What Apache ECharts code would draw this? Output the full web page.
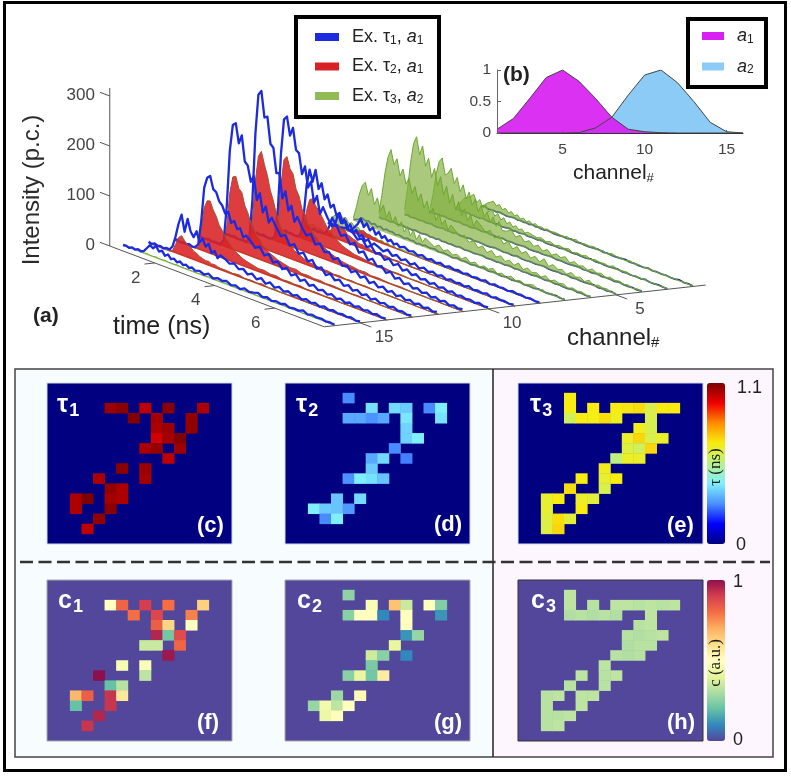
<!DOCTYPE html>
<html><head><meta charset="utf-8"><style>html,body{margin:0;padding:0;background:#fff}#c{width:791px;height:777px;filter:blur(0.55px)}</style>
<script src="https://cdn.jsdelivr.net/npm/echarts@6/dist/echarts.min.js"></script></head>
<body><div id="c"></div><script>
// ---- panel (a): decay traces, photon counts vs time per channel row
const timeNs=[0.6,0.7,0.8,0.9,1.0,1.1,1.2,1.3,1.4,1.5,1.6,1.7,1.8,1.9,2.0,2.1,2.2,2.3,2.4,2.5,2.6,2.7,2.8,2.9,3.0,3.2,3.4,3.6,3.8,4.0,4.2,4.4,4.6,4.8,5.0,5.3,5.6,5.9,6.2,6.5,6.8,7.1,7.4,7.7];
const timeFine=[0.6,0.7,0.8,0.9,1.0,1.1,1.2,1.3,1.4,1.5,1.6,1.7,1.8,1.9,2.0,2.1,2.2,2.3,2.4,2.5,2.6,2.7,2.8,2.9,3.0,3.15,3.3,3.45,3.6,3.75,3.9,4.05,4.2,4.35,4.5,4.65,4.8,4.95,5.1,5.25,5.4,5.55,5.7,5.85,6.0,6.15,6.3,6.45,6.6,6.75,6.9,7.05,7.2,7.35,7.5,7.65];
const blue0=[2,3,1,4,2,5,3,6,14,22,18,25,16,20,12,17,10,13,8,12,7,10,6,9,5,8,4,9,3,7,5,8,3,6,2,7,3,5,8,3,6,2,5,3,6,2,4,3,7,2,5,3,4,2,3,2];
const blue1=[3,1,4,2,3,1,4,3,12,34,62,82,50,78,55,46,60,40,50,36,44,28,34,22,30,26,20,24,16,20,12,17,9,15,7,13,6,11,5,9,4,8,3,7,3,6,2,6,2,5,2,4,2,4,1,3];
const blue2=[2,4,1,3,2,4,1,3,10,58,128,150,156,132,128,112,106,92,98,78,84,70,74,58,64,56,46,52,38,44,30,36,24,30,18,24,14,20,11,16,9,13,7,11,5,9,4,8,3,7,3,6,2,5,2,3];
const blue3=[3,1,2,4,1,3,2,4,14,84,196,250,256,218,236,186,180,150,164,118,134,98,112,82,94,78,64,70,52,58,42,48,34,40,26,32,20,26,16,21,12,17,9,14,7,12,5,10,5,8,4,7,3,5,2,4];
const blue4=[1,3,2,4,1,2,3,1,12,90,225,305,315,264,268,216,210,162,164,116,132,96,108,78,90,72,60,66,48,54,40,44,32,38,26,30,20,26,16,22,12,18,10,15,8,13,6,11,5,9,4,8,3,7,3,5];
const blue5=[2,1,3,1,4,2,1,3,10,70,180,250,258,222,240,198,194,154,172,132,146,106,122,88,104,86,72,78,60,66,50,56,40,46,32,38,26,30,20,26,15,20,11,16,9,13,7,11,5,9,4,8,3,6,3,5];
const blue6=[3,2,1,4,2,3,1,2,8,46,110,144,122,148,112,126,96,108,84,92,72,80,62,68,54,50,40,46,32,38,26,30,20,26,16,22,12,18,10,15,8,12,6,11,5,9,4,8,3,6,3,5,2,5,2,3];
const blue7=[2,3,1,2,4,1,3,2,6,20,40,30,52,36,46,30,40,26,34,22,28,18,24,14,20,16,11,18,9,14,7,12,5,11,4,9,4,8,3,7,2,6,3,5,2,6,2,4,2,5,1,4,2,3,1,3];
const blue8=[1,3,2,4,2,3,5,3,6,14,22,35,20,30,18,26,14,22,12,18,10,15,8,12,7,11,6,9,4,8,3,7,3,6,2,6,3,5,2,5,2,4,2,5,1,4,2,3,1,4,2,3,1,3,1,2];
const blue9=[3,5,8,12,9,11,7,10,6,9,5,8,6,7,4,6,5,3,6,4,5,2,4,3,5,3,5,2,4,3,1,4,2,3,1,3,2,4,1,3,2,1,3,1,2,3,1,2,1,3,2,1,2,3,1,2];
const blue10=[2,1,3,2,1,3,1,2,3,1,2,1,3,2,1,2,3,1,2,1,3,1,2,1,2,1,3,1,2,1,2,3,1,2,1,2,1,3,1,2,1,2,1,3,2,1,3,1,2,1,1,3,1,2,1,2];
const blue11=[1,3,1,2,2,1,3,1,2,3,1,1,2,3,1,2,1,3,2,1,1,2,3,1,2,2,1,1,3,2,1,2,1,3,1,1,2,1,2,3,1,1,2,1,3,1,2,1,1,2,3,1,2,1,3,1];
const blue12=[3,1,2,1,2,3,1,2,1,2,3,1,2,1,1,3,2,1,2,3,1,2,1,1,3,1,2,1,2,3,1,1,2,1,2,3,1,2,1,1,2,3,1,2,1,3,1,2,2,1,3,1,1,2,1,2];
const blue13=[1,2,2,1,3,1,2,1,1,3,2,1,2,1,3,1,1,2,3,1,2,1,2,3,1,2,1,3,1,1,2,1,3,2,1,2,1,1,3,1,2,1,1,2,3,1,2,1,2,1,3,1,1,2,1,1];
const blue14=[2,3,1,1,2,1,3,2,1,1,2,3,1,2,1,2,1,3,1,2,1,1,3,2,1,1,2,1,3,1,2,1,1,2,3,1,2,1,1,2,3,1,2,1,1,3,1,2,1,2,1,1,3,1,2,1];
const red1=[0,0,0,0,0,0,0,0,4,18,34,40,32,26,24,18,16,12,10,8,9,6,7,5,4,4,3,5,2,3,2,4,1,2,1,2,3,1,2,1,2,1,2,1];
const red2=[0,0,0,0,0,0,0,0,6,40,88,104,106,90,80,64,56,46,38,32,26,22,18,15,13,10,7,8,5,6,3,4,3,4,2,3,2,3,1,2,2,1,2,1];
const red3=[0,0,0,0,0,0,0,0,8,44,112,146,150,128,122,98,86,68,60,46,42,32,28,22,20,14,11,8,9,5,6,4,5,3,4,3,2,3,1,2,1,2,1,1];
const red4=[0,0,0,0,0,0,0,0,8,50,130,182,194,170,150,122,104,80,66,52,44,32,28,20,18,12,8,7,4,5,3,4,2,3,2,3,1,2,2,1,2,1,1,2];
const red5=[0,0,0,0,0,0,0,0,6,42,118,170,178,156,148,120,108,84,76,58,54,42,38,28,26,18,14,10,8,7,5,6,3,4,3,2,3,1,2,1,2,1,1,1];
const red6=[0,0,0,0,0,0,0,0,4,22,60,84,88,76,70,60,50,40,36,28,24,20,16,14,12,8,7,5,4,3,4,2,3,2,1,2,1,2,1,1,2,1,1,1];
const red7=[0,0,0,0,0,0,0,0,2,8,20,28,30,24,26,18,16,13,12,8,9,6,7,4,5,3,4,2,3,1,2,2,1,1,1,1,1,1,1,1,1,1,1,1];
const red8=[0,0,0,0,0,0,0,0,1,4,8,11,12,9,8,7,6,4,5,3,4,2,3,2,2,1,2,1,1,1,1,1,1,1,1,1,1,1,1,1,1,1,1,1];
const greenLow=[1,2,2,3,2,3,2,2,3,2,2,3,2,2,3,2,2,2,3,2,2,2,2,2,2,2,2,3,2,2,2,3,2,2,2,2,3,2,2,2,2,2,1,2,2,1,2,2,1,2,1,1,2,1,1,1];
const green7=[1,4,8,10,12,8,10,6,8,5,6,4,5,3,4,2,3,2,3,1,2,2,2,1,2,2,1,2,1,2,1,2,1,1,2,1,1,2,1,1,1,2,1,1,1,1,2,1,1,1,1,1,1,1,1,1];
const green8=[2,10,20,26,30,22,26,16,20,12,16,10,13,8,10,6,8,5,7,4,6,3,5,2,4,4,2,4,2,3,1,4,2,3,1,3,2,2,1,3,1,2,2,1,2,1,2,1,1,2,1,1,1,2,1,1];
const green9=[6,30,58,78,86,62,78,48,64,40,54,32,46,26,40,22,34,16,30,13,26,10,22,9,20,14,9,16,8,13,6,11,5,12,4,9,3,8,5,10,3,7,2,8,3,6,2,5,7,2,5,1,4,2,3,1];
const green10=[10,50,95,128,146,118,132,100,116,88,102,74,90,64,80,54,70,46,60,38,54,34,46,28,40,32,24,30,19,26,15,22,12,20,10,16,8,14,7,15,5,12,6,9,4,10,3,8,5,7,2,6,3,5,2,3];
const green11=[12,56,110,150,166,132,152,114,132,96,116,84,104,70,90,58,78,50,68,42,58,36,50,30,44,36,27,34,22,30,17,26,14,22,12,19,9,16,8,18,6,13,7,10,4,11,5,8,3,9,2,6,4,5,2,3];
const green12=[8,40,82,108,118,86,92,104,76,90,64,80,54,70,46,60,38,52,32,44,26,38,22,34,18,20,26,15,22,12,18,10,16,7,14,6,12,8,13,4,10,5,8,3,9,4,7,2,6,3,5,2,4,1,3,1];
const green13=[3,12,22,30,34,38,44,30,38,24,32,20,28,16,24,13,20,10,16,8,13,7,11,5,9,7,5,8,4,7,3,6,4,7,2,5,3,6,2,5,3,4,2,6,2,3,4,1,3,2,3,1,2,1,2,1];
const green14=[2,6,12,16,20,13,18,10,15,8,13,7,11,5,9,4,8,3,7,3,5,3,5,2,4,4,2,5,2,6,1,4,3,5,2,4,1,5,2,3,1,4,2,3,1,3,2,2,1,3,1,2,1,2,1,1];
const blueRows=[blue0,blue1,blue2,blue3,blue4,blue5,blue6,blue7,blue8,blue9,blue10,blue11,blue12,blue13,blue14];
const redRows=[null,red1,red2,red3,red4,red5,red6,red7,red8];
const greenRows=[greenLow,greenLow,greenLow,greenLow,greenLow,greenLow,greenLow,green7,green8,green9,green10,green11,green12,green13,green14];
const intensityTicks=[0,100,200,300], timeTicks=[2,4,6], channelTicks=[5,10,15];
// ---- panel (b): emission spectra
const channels=[1,2,3,4,5,6,7,8,9,10,11,12,13,14,15,16];
const spectrumA1=[0.06,0.23,0.55,0.88,1,0.82,0.55,0.25,0.06,0.02,0.005,0,0,0,0,0];
const spectrumA2=[0,0,0,0,0,0.005,0.08,0.25,0.6,0.92,1,0.8,0.5,0.17,0.02,0];
// ---- panels (c)-(h): [column,row,value]
const gridIndex=['0','1','2','3','4','5','6','7','8','9','10','11','12','13','14','15'];
const tau1=[[5,2,1.06],[6,2,1.08],[8,2,1.02],[10,2,1.08],[13,2,1.04],[7,3,1.09],[9,3,1.05],[12,3,1.07],[9,4,1.04],[10,4,1.06],[12,4,1.07],[9,5,1.0],[10,5,1.05],[11,5,1.09],[8,6,1.04],[9,6,1.07],[11,6,1.06],[10,7,1.02],[6,8,1.08],[8,8,1.06],[4,9,1.04],[8,9,1.05],[5,10,1.07],[6,10,1.04],[2,11,1.04],[3,11,1.09],[5,11,1.05],[6,11,1.04],[2,12,1.04],[5,12,1.08],[4,13,1.07],[3,14,1.02]];
const tau2=[[5,1,0.27],[7,2,0.39],[9,2,0.38],[10,2,0.36],[12,2,0.27],[13,2,0.41],[5,3,0.31],[6,3,0.31],[7,3,0.28],[8,3,0.31],[10,3,0.4],[13,3,0.39],[10,4,0.37],[10,5,0.37],[11,5,0.41],[9,6,0.27],[7,7,0.31],[8,7,0.38],[10,7,0.26],[7,8,0.36],[5,9,0.28],[6,9,0.41],[7,9,0.39],[8,9,0.35],[4,11,0.35],[6,11,0.38],[2,12,0.41],[3,12,0.36],[4,12,0.35],[5,12,0.29],[3,13,0.27],[4,13,0.41]];
const tau3=[[4,1,0.69],[4,2,0.69],[6,2,0.69],[8,2,0.69],[9,2,0.7],[10,2,0.71],[11,2,0.62],[12,2,0.69],[13,2,0.69],[4,3,0.6],[5,3,0.69],[6,3,0.68],[7,3,0.71],[8,3,0.67],[11,3,0.62],[10,4,0.67],[11,4,0.62],[9,5,0.66],[10,5,0.72],[11,5,0.62],[12,5,0.66],[9,6,0.63],[10,6,0.6],[11,6,0.72],[8,7,0.56],[9,7,0.66],[10,7,0.66],[7,8,0.67],[5,9,0.69],[7,9,0.65],[8,9,0.69],[4,10,0.71],[7,10,0.62],[2,11,0.65],[3,11,0.69],[5,11,0.66],[6,11,0.64],[2,12,0.65],[5,12,0.69],[2,13,0.63],[3,13,0.71],[4,13,0.64],[2,14,0.63],[3,14,0.72]];
const conc1=[[5,2,0.5],[6,2,0.82],[8,2,0.9],[10,2,0.8],[13,2,0.63],[7,3,0.8],[9,3,0.88],[12,3,0.77],[9,4,0.83],[10,4,0.62],[12,4,0.5],[9,5,0.95],[10,5,0.22],[11,5,0.87],[8,6,0.35],[9,6,0.35],[11,6,0.82],[10,7,0.98],[6,8,0.47],[8,8,0.48],[4,9,1.0],[8,9,0.33],[5,10,0.2],[6,10,0.32],[2,11,0.68],[3,11,0.83],[5,11,0.92],[6,11,0.57],[2,12,0.2],[5,12,0.92],[4,13,0.95],[3,14,0.92]];
const conc2=[[5,1,0.26],[7,2,0.48],[9,2,0.66],[10,2,0.35],[12,2,0.5],[13,2,0.24],[5,3,0.25],[6,3,0.5],[7,3,0.5],[8,3,0.1],[10,3,0.5],[13,3,0.12],[10,4,0.5],[10,5,0.12],[11,5,0.27],[9,6,0.41],[7,7,0.36],[8,7,0.25],[10,7,0.1],[7,8,0.23],[5,9,0.25],[6,9,0.42],[7,9,0.22],[8,9,0.56],[4,11,0.28],[6,11,0.52],[2,12,0.27],[3,12,0.45],[4,12,0.33],[5,12,0.5],[3,13,0.43],[4,13,0.49]];
const conc3=[[4,1,0.33],[4,2,0.33],[6,2,0.32],[8,2,0.33],[9,2,0.33],[10,2,0.32],[11,2,0.33],[12,2,0.32],[13,2,0.33],[4,3,0.31],[5,3,0.32],[6,3,0.31],[7,3,0.32],[8,3,0.31],[11,3,0.33],[10,4,0.32],[11,4,0.33],[9,5,0.32],[10,5,0.31],[11,5,0.32],[12,5,0.33],[9,6,0.31],[10,6,0.32],[11,6,0.32],[8,7,0.32],[9,7,0.31],[10,7,0.32],[7,8,0.33],[5,9,0.33],[7,9,0.32],[8,9,0.33],[4,10,0.32],[7,10,0.32],[2,11,0.32],[3,11,0.33],[5,11,0.33],[6,11,0.33],[2,12,0.32],[5,12,0.33],[2,13,0.32],[3,13,0.32],[4,13,0.33],[2,14,0.32],[3,14,0.33]];

const tauColors=['#000080','#0000ff','#4a90ff','#80f0ff','#b8f088','#f8ee10','#ff8c00','#f00000','#7a0000'];
const concColors=['#52479a','#3288bd','#66c2a5','#abdda4','#e6f598','#ffffbf','#fee08b','#fdae61','#f46d43','#d53e4f','#8e0f4e'];
const BLUE='#1c2be0',RED='#d92226',GREEN='#93bb55';
const L1='Ex. τ1, a1',L2='Ex. τ2, a1',L3='Ex. τ3, a2';

// oblique projection of (time, channel row, intensity) into the hidden drawing scale
function proj(t,k,I){return [123+30*(t-0.6)+25.6*k, 246+11.3*(t-0.6)-2.8*k-0.5*I];}
function traceSeries(name,k,vals,kind){
  const times=kind==='red'?timeNs:timeFine;
  return {type:'custom',name,coordinateSystem:'cartesian2d',xAxisIndex:0,yAxisIndex:0,silent:true,clip:false,
    itemStyle:{color:kind==='blue'?BLUE:kind==='red'?RED:GREEN},
    data:vals.map((v,i)=>[times[i],v]),
    renderItem(p,api){
      if(p.dataIndex!==0)return null;
      const pts=vals.map((v,i)=>api.coord(proj(times[i],k,v)));
      if(kind==='blue')return {type:'polyline',shape:{points:pts},style:{stroke:k>=9?'#1a2c9e':BLUE,fill:null,lineWidth:k>=9?1.7:2.3,lineJoin:'round'}};
      const poly=pts.concat([api.coord(proj(times[times.length-1],k,0)),api.coord(proj(times[0],k,0))]);
      return {type:'group',children:[
        {type:'polygon',shape:{points:poly},style:{fill:kind==='red'?'rgba(217,34,38,0.88)':'rgba(130,175,62,0.68)',stroke:null}},
        {type:'polyline',shape:{points:pts},style:{stroke:kind==='red'?'#a5502e':'#6fa732',fill:null,lineWidth:1}}]};
    }};
}
const series=[];
for(let k=14;k>=0;k--){
  if(k>=9){series.push(traceSeries(L1,k,blueRows[k],'blue'));series.push(traceSeries(L3,k,greenRows[k],'green'));}
  else{series.push(traceSeries(L3,k,greenRows[k],'green'));if(redRows[k])series.push(traceSeries(L2,k,redRows[k],'red'));series.push(traceSeries(L1,k,blueRows[k],'blue'));}
}
// 3-D box axes
series.push({type:'custom',name:'axes',coordinateSystem:'cartesian2d',xAxisIndex:0,yAxisIndex:0,silent:true,clip:false,data:[0],z:5,
  renderItem(p,api){
    const c=[],GR='#555',TX='#444',TF='17px "Liberation Sans",Arial,sans-serif';
    const line=(a,b,col,w)=>c.push({type:'line',shape:{x1:a[0],y1:a[1],x2:b[0],y2:b[1]},style:{stroke:col||GR,lineWidth:w||1}});
    const txt=(a,s,al)=>c.push({type:'text',x:a[0],y:a[1],style:{text:s,fill:TX,font:TF,align:al||'center',verticalAlign:'middle'}});
    const P=(t,k,I)=>api.coord(proj(t,k,I));
    line(P(0.5,-0.4,0),P(7.65,-0.4,0));
    line(P(7.65,-0.4,0),P(7.65,14.5,0));
    line(P(0.5,-0.4,0),P(0.5,-0.4,316));
    intensityTicks.forEach(v=>{const a=P(0.5,-0.4,v),b=P(0.17,-0.4,v);line(a,b);txt([b[0]-5,b[1]+3],String(v),'right');});
    timeTicks.forEach(v=>{const a=P(v,-0.4,0),b=P(v,-0.8,0);line(a,b);const l=P(v,-1.1,0);txt([l[0]-1,l[1]+13],String(v));});
    channelTicks.forEach(v=>{const k=16-v,a=P(7.65,k,0),b=P(8.02,k,0);line(a,b);const l=P(8.45,k,0);txt([l[0],l[1]+5],String(v));});
    return {type:'group',children:c};
  }});
// panel (b)
series.push({type:'line',name:'a2',xAxisIndex:1,yAxisIndex:1,data:channels.map((c,i)=>[c,spectrumA2[i]]),symbol:'none',lineStyle:{color:'#444',width:1},itemStyle:{color:'#8ccbf5'},areaStyle:{color:'#8ccbf5',opacity:1}});
series.push({type:'line',name:'a1',xAxisIndex:1,yAxisIndex:1,data:channels.map((c,i)=>[c,spectrumA1[i]]),symbol:'none',lineStyle:{color:'#444',width:1},itemStyle:{color:'#d820f2'},areaStyle:{color:'#d820f2',opacity:0.92}});
// heat maps
const maps=[tau1,tau2,tau3,conc1,conc2,conc3];
const panelX=[47,285,518], panelTop=[383,580], panelH=[161,161];
const grids=[{left:0,top:0,width:791,height:777,show:false},{left:497,top:70,width:246,height:63,show:false}];
const xAxes=[{type:'value',min:0,max:791,show:false,gridIndex:0},{type:'value',gridIndex:1,min:1,max:16,axisLine:{lineStyle:{color:'#333'}},splitLine:{show:false},axisTick:{inside:true,length:3,customValues:channelTicks,lineStyle:{color:'#555'}},axisLabel:{customValues:channelTicks,color:'#444',fontSize:15.5,margin:9,fontFamily:'Liberation Sans'}}];
const yAxes=[{type:'value',min:0,max:777,inverse:true,show:false,gridIndex:0},{type:'value',gridIndex:1,min:0,max:1,interval:0.5,axisLine:{show:true,lineStyle:{color:'#666'}},splitLine:{show:false},axisTick:{show:true,inside:true,length:4,lineStyle:{color:'#666'}},axisLabel:{color:'#444',fontSize:15.5,margin:6,padding:[3,0,0,0],fontFamily:'Liberation Sans'}}];
const hmStart=series.length;
maps.forEach((m,i)=>{
  const r=Math.floor(i/3),cIdx=i%3,g=grids.length,bg=r===0?'#000080':'#52479a';
  grids.push({left:panelX[cIdx],top:panelTop[r],width:185,height:panelH[r],show:true,backgroundColor:bg,borderColor:i===5?'#333':r===1?'#aaa':'#cfd8e8',borderWidth:1,z:1});
  xAxes.push({type:'category',gridIndex:g,data:gridIndex,show:false});
  yAxes.push({type:'category',gridIndex:g,data:gridIndex,inverse:true,show:false});
  series.push({type:'heatmap',xAxisIndex:g,yAxisIndex:g,data:m,silent:true,progressive:0,emphasis:{disabled:true}});
});
const T=(x,y,text,font,fill,extra)=>Object.assign({type:'text',x,y,z:50,style:Object.assign({text,font,fill:fill||'#222',align:'left',verticalAlign:'middle'},extra&&extra.style||{})},extra&&extra.node||{});
const H='"Liberation Sans",Arial,sans-serif';
const subRich={s:{fontSize:18,fontFamily:'Liberation Sans',fontWeight:'bold',fill:'#fff',padding:[12,0,0,1]},m:{fontSize:25,fontFamily:'Liberation Sans',fontWeight:'bold',fill:'#fff'}};
const chRich=(a,b)=>({style:{rich:{m:{fontSize:a,fontFamily:'Liberation Sans',fill:'#222'},s:{fontSize:b,fontFamily:'Liberation Sans',fill:'#222',padding:[10,0,0,0]}}}});
const rect=(x,y,w,h,o)=>({type:'rect',z:-5,shape:{x,y,width:w,height:h},style:{fill:o.fill||'none',stroke:o.stroke||'none',lineWidth:o.lw||1}});
const graphic=[
  rect(15,370,478,387,{fill:'#f7fdfe'}),
  rect(493,370,280,387,{fill:'#fdf6fe'}),
  rect(15,369,758,388,{stroke:'#444',lw:1.5}),
  {type:'line',z:-4,shape:{x1:493,y1:369,x2:493,y2:757},style:{stroke:'#222',lineWidth:1.5}},
  {type:'line',z:-4,shape:{x1:20,y1:562,x2:770,y2:562},style:{stroke:'#333',lineWidth:2.5,lineDash:[13,5.5]}},
  rect(4.5,2.5,781,768,{stroke:'#000',lw:3}),
  rect(296,17,143,100,{stroke:'#000',lw:4,fill:'#fff'}),
  rect(688,19,78,68,{stroke:'#000',lw:4,fill:'#fff'}),
  T(32,190,'Intensity (p.c.)','24px '+H,'#2b2b2b',{node:{rotation:Math.PI/2},style:{align:'center'}}),
  T(113,327,'time (ns)','25px '+H,'#222'),
  T(33,316,'(a)','bold 21px '+H,'#222'),
  T(503,75,'(b)','bold 21px '+H,'#222'),
  T(567,338,'{m|channel}{s|#}','24px '+H,'#222',chRich(24,15)),
  T(573,173,'{m|channel}{s|#}','21px '+H,'#222',chRich(21,13)),
  T(57,405,'{m|τ}{s|1}','bold 25px '+H,'#fff',{style:{rich:subRich}}),
  T(296,405,'{m|τ}{s|2}','bold 25px '+H,'#fff',{style:{rich:subRich}}),
  T(530,405,'{m|τ}{s|3}','bold 25px '+H,'#fff',{style:{rich:subRich}}),
  T(58,601,'{m|c}{s|1}','bold 25px '+H,'#fff',{style:{rich:subRich}}),
  T(297,601,'{m|c}{s|2}','bold 25px '+H,'#fff',{style:{rich:subRich}}),
  T(531,601,'{m|c}{s|3}','bold 25px '+H,'#fff',{style:{rich:subRich}}),
  T(197,526,'(c)','bold 22px '+H,'#fff'),
  T(434,525,'(d)','bold 22px '+H,'#fff'),
  T(667,526,'(e)','bold 22px '+H,'#fff'),
  T(197,723,'(f)','bold 22px '+H,'#fff'),
  T(434,723,'(g)','bold 22px '+H,'#fff'),
  T(667,723,'(h)','bold 22px '+H,'#fff'),
  T(737,388,'1.1','18px '+H,'#222'),
  T(736,545,'0','18px '+H,'#222'),
  T(733,582,'1','18px '+H,'#222'),
  T(733,740,'0','18px '+H,'#222'),
  T(716,467,'τ (ns)','17px "Liberation Serif",serif','#1a1a1a',{node:{rotation:Math.PI/2},style:{align:'center'}}),
  T(716,663,'c (a.u.)','17px "Liberation Serif",serif','#1a1a1a',{node:{rotation:Math.PI/2},style:{align:'center'}})
];
const legRich={g:{width:8},t:{fontSize:18,fontFamily:'Liberation Sans',color:'#222',lineHeight:20},s:{fontSize:12,fontFamily:'Liberation Sans',color:'#222',padding:[7,0,0,0]},i:{fontSize:18,fontFamily:'Liberation Sans',fontStyle:'italic',color:'#222',lineHeight:20}};
const leg1=(n)=>{const d=n.charAt(5),e=n.charAt(9);return `{g|}{t|Ex. τ}{s|${d}}{t|, }{i|a}{s|${e}}`;};
const leg2=(n)=>`{g|}{i|a}{s|${n.charAt(1)}}`;
const option={animation:false,backgroundColor:'#fff',grid:grids,xAxis:xAxes,yAxis:yAxes,series,graphic,
  legend:[
    {data:[L1,L2,L3],left:315,top:28,orient:'vertical',padding:0,itemWidth:24,itemHeight:8,itemGap:11,icon:'rect',selectedMode:false,formatter:leg1,textStyle:{rich:legRich},z:60},
    {data:['a1','a2'],left:702,top:27,orient:'vertical',padding:0,itemWidth:22,itemHeight:8,itemGap:12,icon:'rect',selectedMode:false,formatter:leg2,textStyle:{rich:legRich},z:60}
  ],
  visualMap:[
    {type:'continuous',seriesIndex:[hmStart,hmStart+1,hmStart+2],min:0,max:1.1,left:707,top:383,itemWidth:18,itemHeight:161,padding:0,calculable:false,showLabel:false,text:null,inRange:{color:tauColors},hoverLink:false},
    {type:'continuous',seriesIndex:[hmStart+3,hmStart+4,hmStart+5],min:0,max:1,left:707,top:580,itemWidth:18,itemHeight:161,padding:0,calculable:false,showLabel:false,text:null,inRange:{color:concColors},hoverLink:false}
  ]};
echarts.init(document.getElementById('c'),null,{renderer:'canvas'}).setOption(option);
</script></body></html>
